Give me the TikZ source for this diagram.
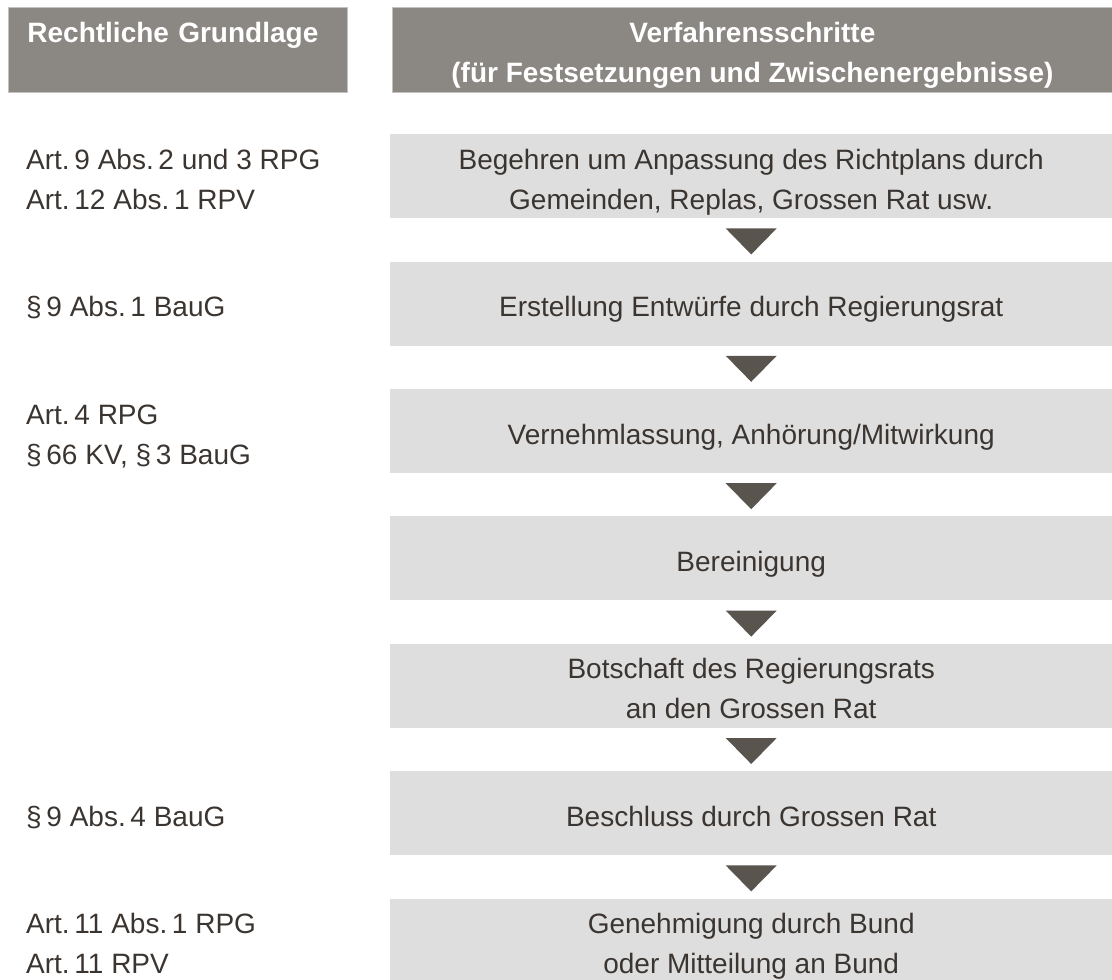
\documentclass[tikz,border=0pt]{standalone}
\usepackage{fontspec}
\setmainfont{Liberation Sans}
\definecolor{hdr}{HTML}{8B8783}
\definecolor{hdrline}{HTML}{C4C1BE}
\definecolor{boxfill}{HTML}{DEDEDE}
\definecolor{txt}{HTML}{3B3531}
\definecolor{arr}{HTML}{5A544E}
\newcommand{\st}{\rule[-6pt]{0pt}{38pt}}
\begin{document}
\begin{tikzpicture}[x=1pt,y=-1pt,
  hdrbox/.style={fill=hdr,draw=hdrline,line width=0.8pt,inner sep=0pt,anchor=north west,
    minimum height=85pt,text=white,font=\fontsize{28}{40}\selectfont\bfseries,align=center},
  stepbox/.style={fill=boxfill,inner sep=0pt,anchor=north west,minimum width=722pt,
    minimum height=84pt,text=txt,font=\fontsize{28}{40}\selectfont,align=center},
  lawtext/.style={anchor=west,inner sep=0pt,text=txt,font=\fontsize{28}{40}\selectfont,align=left},
  tri/.style={fill=arr}]
\useasboundingbox (0,0) rectangle (1112,980);

% headers
\node[hdrbox,minimum width=339pt,text width=301pt,align=left] (h1) at (8,7)
  {\st Rechtliche Grundlage\\\st};
\node[hdrbox,minimum width=720pt] (h2) at (392,7)
  {\st Verfahrensschritte\\\st(für Festsetzungen und Zwischenergebnisse)};

% steps
\node[stepbox] (b1) at (390,134) {\st Begehren um Anpassung des Richtplans durch\\\st Gemeinden, Replas, Grossen Rat usw.};
\node[stepbox] (b2) at (390,261.4) {\st Erstellung Entwürfe durch Regierungsrat};
\node[stepbox] (b3) at (390,388.8) {\st Vernehmlassung, Anhörung/Mitwirkung};
\node[stepbox] (b4) at (390,516.2) {\st Bereinigung};
\node[stepbox] (b5) at (390,643.6) {\st Botschaft des Regierungsrats\\\st an den Grossen Rat};
\node[stepbox] (b6) at (390,771) {\st Beschluss durch Grossen Rat};
\node[stepbox] (b7) at (390,898.4) {\st Genehmigung durch Bund\\\st oder Mitteilung an Bund};

% arrows
\foreach \a in {b1,b2,b3,b4,b5,b6}
  \fill[tri] ([shift={(-25.5,10)}]\a.south) -- ++(51,0) -- ++(-25.5,26) -- cycle;

% legal basis
\path (b1.west) ++(-364,0) node[lawtext] (l1) {\st Art.\,9 Abs.\,2 und 3 RPG\\\st Art.\,12 Abs.\,1 RPV};
\path (b2.west) ++(-364,0) node[lawtext] (l2) {\st §\,9 Abs.\,1 BauG};
\path (b3.west) ++(-364,0) node[lawtext] (l3) {\st Art.\,4 RPG\\\st §\,66 KV, §\,3 BauG};
\path (b6.west) ++(-364,0) node[lawtext] (l6) {\st §\,9 Abs.\,4 BauG};
\path (b7.west) ++(-364,0) node[lawtext] (l7) {\st Art.\,11 Abs.\,1 RPG\\\st Art.\,11 RPV};
\end{tikzpicture}
\end{document}
